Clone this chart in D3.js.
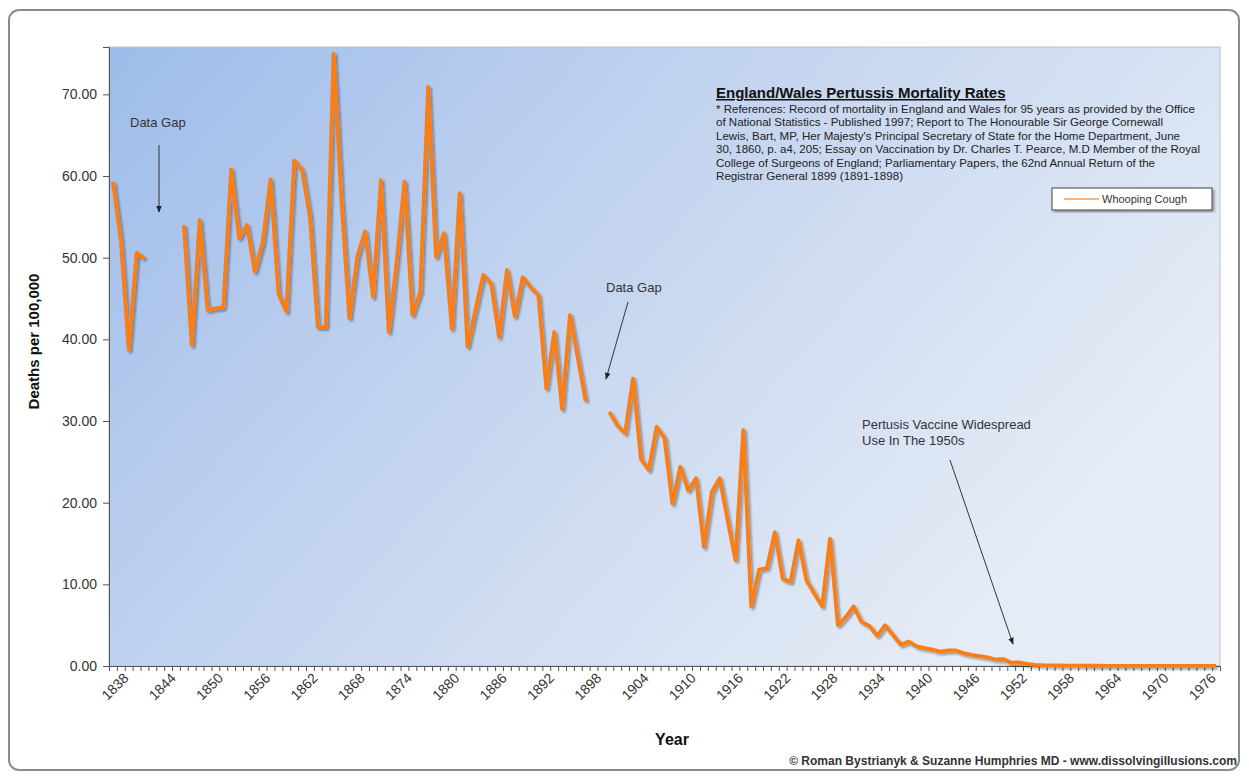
<!DOCTYPE html>
<html>
<head>
<meta charset="utf-8">
<script src="https://cdn.jsdelivr.net/npm/d3@7"></script>
<style>
  html, body { margin: 0; padding: 0; background: #fff; }
  svg { display: block; font-family: "Liberation Sans", Arial, sans-serif; }
</style>
</head>
<body>
<svg id="chart" width="1249" height="779"></svg>
<script>
// years on the category axis (1838 - 1978)
var firstYear = 1838, lastYear = 1978;
var labelYears = [1838, 1844, 1850, 1856, 1862, 1868, 1874, 1880, 1886, 1892, 1898, 1904,
    1910, 1916, 1922, 1928, 1934, 1940, 1946, 1952, 1958, 1964, 1970, 1976];
var yTicks = [0, 10, 20, 30, 40, 50, 60, 70];

// deaths per 100,000, one value per year, null = data gap
var deaths = [
    59.3, 52.1, 38.7, 50.6, 49.9, null, null, null, null, 54.0,   // 1838-1847
    39.3, 54.6, 43.6, 43.8, 43.9, 60.8, 52.4, 54.0, 48.3, 51.9,   // 1848-1857
    59.6, 45.6, 43.4, 61.9, 60.8, 55.0, 41.5, 41.5, 75.0, 57.0,   // 1858-1867
    42.6, 50.1, 53.2, 45.2, 59.5, 40.9, 49.5, 59.3, 43.0, 45.8,   // 1868-1877
    70.9, 50.1, 53.0, 41.3, 57.9, 39.1, 43.6, 47.9, 46.8, 40.3,   // 1878-1887
    48.5, 42.8, 47.6, 46.4, 45.4, 34.0, 40.9, 31.5, 43.0, 37.7,   // 1888-1897
    32.4, null, null, 31.1, 29.5, 28.5, 35.2, 25.4, 24.0, 29.3,   // 1898-1907
    27.9, 19.9, 24.4, 21.5, 23.0, 14.6, 21.3, 23.0, 17.9, 13.0,   // 1908-1917
    28.9, 7.3, 11.8, 12.0, 16.4, 10.7, 10.3, 15.4, 10.5, 8.9,     // 1918-1927
    7.3, 15.6, 5.0, 6.0, 7.3, 5.4, 4.9, 3.7, 5.0, 3.8,            // 1928-1937
    2.6, 3.0, 2.4, 2.2, 2.0, 1.75, 1.9, 1.9, 1.55, 1.35,          // 1938-1947
    1.2, 1.05, 0.8, 0.85, 0.4, 0.45, 0.25, 0.15, 0.1, 0.08,       // 1948-1957
    0.06, 0.05, 0.04, 0.04, 0.03, 0.03, 0.02, 0.02, 0.02, 0.02,   // 1958-1967
    0.02, 0.01, 0.01, 0.01, 0.01, 0.01, 0.01, 0.01, 0.01, 0.01,   // 1968-1977
    0.01                                                          // 1978
];

var refLines = [
    '* References: Record of mortality in England and Wales for 95 years as provided by the Office',
    'of National Statistics - Published 1997; Report to The Honourable Sir George Cornewall',
    "Lewis, Bart, MP, Her Majesty's Principal Secretary of State for the Home Department, June",
    '30, 1860, p. a4, 205; Essay on Vaccination by Dr. Charles T. Pearce, M.D Member of the Royal',
    'College of Surgeons of England; Parliamentary Papers, the 62nd Annual Return of the',
    'Registrar General 1899 (1891-1898)'
];

var data = deaths.map(function(v, i) { return {year: firstYear + i, value: v}; });

var plot = {left: 109, right: 1220, top: 47, bottom: 666};

var svg = d3.select('#chart');
var defs = svg.append('defs');

var grad = defs.append('linearGradient').attr('id', 'plotBg')
    .attr('x1', '0').attr('y1', '0').attr('x2', '1').attr('y2', '0.5');
grad.append('stop').attr('offset', '0%').attr('stop-color', '#9ebcea');
grad.append('stop').attr('offset', '45%').attr('stop-color', '#c2d3ef');
grad.append('stop').attr('offset', '100%').attr('stop-color', '#e6ecf6');

var shadow = defs.append('filter').attr('id', 'lineShadow')
    .attr('x', '-5%').attr('y', '-5%').attr('width', '110%').attr('height', '110%');
shadow.append('feGaussianBlur').attr('in', 'SourceAlpha').attr('stdDeviation', 1.2).attr('result', 'b');
shadow.append('feOffset').attr('in', 'b').attr('dx', 1.5).attr('dy', 1.5).attr('result', 'o');
shadow.append('feComponentTransfer').attr('in', 'o').attr('result', 's')
    .append('feFuncA').attr('type', 'linear').attr('slope', 0.35);
var merge = shadow.append('feMerge');
merge.append('feMergeNode').attr('in', 's');
merge.append('feMergeNode').attr('in', 'SourceGraphic');

var boxShadow = defs.append('filter').attr('id', 'boxShadow');
boxShadow.append('feDropShadow').attr('dx', 2).attr('dy', 2).attr('stdDeviation', 1.5)
    .attr('flood-color', '#000').attr('flood-opacity', 0.35);

defs.append('marker').attr('id', 'arrow')
    .attr('viewBox', '0 0 10 10').attr('refX', 9).attr('refY', 5)
    .attr('markerWidth', 7).attr('markerHeight', 7).attr('orient', 'auto')
    .append('path').attr('d', 'M0,1 L10,5 L0,9 Z').attr('fill', '#222');

// outer frame
svg.append('rect')
    .attr('x', 9).attr('y', 10).attr('width', 1230).attr('height', 760)
    .attr('rx', 10).attr('fill', '#fff')
    .attr('stroke', '#8c8c8c').attr('stroke-width', 2);

// plot area
svg.append('rect')
    .attr('x', plot.left).attr('y', plot.top)
    .attr('width', plot.right - plot.left).attr('height', plot.bottom - plot.top)
    .attr('fill', 'url(#plotBg)')
    .attr('stroke', '#b9c0c9').attr('stroke-width', 1);

// scales
var x = d3.scaleLinear().domain([firstYear - 0.5, lastYear + 0.5]).range([plot.left, plot.right]);
var y = d3.scaleLinear().domain([0, 75.8]).range([plot.bottom, plot.top]);

// y axis
var yAxis = d3.axisLeft(y).tickValues(yTicks).tickSize(6).tickPadding(6)
    .tickFormat(d3.format('.2f'));
var gy = svg.append('g').attr('transform', 'translate(' + plot.left + ',0)').call(yAxis);
gy.select('.domain').attr('stroke', '#555');
gy.selectAll('.tick line').attr('stroke', '#555');
gy.selectAll('.tick text').attr('fill', '#333').style('font-size', '14px');

// x axis: a tick between every year
var boundaries = d3.range(firstYear - 0.5, lastYear + 1, 1);
var xTicks = d3.axisBottom(x).tickValues(boundaries).tickSize(5).tickFormat('');
var gx = svg.append('g').attr('transform', 'translate(0,' + plot.bottom + ')').call(xTicks);
gx.select('.domain').attr('stroke', '#555');
gx.selectAll('.tick line').attr('stroke', '#555');

var xLabels = d3.axisBottom(x).tickValues(labelYears).tickSize(0).tickFormat(d3.format('d'));
var gxl = svg.append('g').attr('transform', 'translate(0,' + plot.bottom + ')').call(xLabels);
gxl.select('.domain').remove();
gxl.selectAll('.tick text')
    .attr('fill', '#333').style('font-size', '14px')
    .attr('text-anchor', 'end').attr('dy', null).attr('y', 0)
    .attr('transform', 'translate(16,13) rotate(-45)');

// axis titles
svg.append('text')
    .attr('transform', 'translate(39,' + ((plot.top + plot.bottom) / 2 - 15) + ') rotate(-90)')
    .attr('text-anchor', 'middle')
    .style('font-size', '15px').style('font-weight', 'bold').attr('fill', '#111')
    .text('Deaths per 100,000');
svg.append('text')
    .attr('x', 672).attr('y', 745).attr('text-anchor', 'middle')
    .style('font-size', '16px').style('font-weight', 'bold').attr('fill', '#111')
    .text('Year');

// the series
var line = d3.line()
    .defined(function(d) { return d.value !== null; })
    .x(function(d) { return x(d.year); })
    .y(function(d) { return y(d.value); });
svg.append('path')
    .datum(data)
    .attr('d', line)
    .attr('fill', 'none')
    .attr('stroke', '#fb7d16')
    .attr('stroke-width', 3.8)
    .attr('stroke-linejoin', 'round')
    .attr('filter', 'url(#lineShadow)');

// title and references
svg.append('text')
    .attr('x', 716).attr('y', 98)
    .style('font-size', '15px').style('font-weight', 'bold')
    .style('text-decoration', 'underline').attr('fill', '#111')
    .text('England/Wales Pertussis Mortality Rates');
var refEnds = [1195, 1163, 1180, 1200, 1155, 903];
svg.append('g').selectAll('text').data(refLines).enter().append('text')
    .attr('x', 716)
    .attr('y', function(d, i) { return 113 + i * 13.4; })
    .attr('textLength', function(d, i) { return refEnds[i] - 716; })
    .attr('lengthAdjust', 'spacingAndGlyphs')
    .style('font-size', '11px').attr('fill', '#222')
    .text(function(d) { return d; });

// legend
var lg = svg.append('g').attr('transform', 'translate(1052,188)');
lg.append('rect').attr('width', 160).attr('height', 22)
    .attr('fill', '#fff').attr('stroke', '#444').attr('stroke-width', 1)
    .attr('filter', 'url(#boxShadow)');
lg.append('line').attr('x1', 12).attr('x2', 47).attr('y1', 11).attr('y2', 11)
    .attr('stroke', '#fb9a4a').attr('stroke-width', 1.5);
lg.append('text').attr('x', 50).attr('y', 15)
    .style('font-size', '11px').attr('fill', '#333').text('Whooping Cough');

// annotations
function note(lines, tx, ty, ax1, ay1, ax2, ay2) {
    var t = svg.append('text').attr('x', tx).attr('y', ty)
        .style('font-size', '13px').attr('fill', '#333');
    lines.forEach(function(s, i) {
        t.append('tspan').attr('x', tx).attr('dy', i === 0 ? 0 : 16).text(s);
    });
    svg.append('line')
        .attr('x1', ax1).attr('y1', ay1).attr('x2', ax2).attr('y2', ay2)
        .attr('stroke', '#333').attr('stroke-width', 1)
        .attr('marker-end', 'url(#arrow)');
}
note(['Data Gap'], 130, 127, 159, 145, 159, 212);
note(['Data Gap'], 606, 292, 628, 302, 606, 379);
note(['Pertusis Vaccine Widespread', 'Use In The  1950s'], 862, 429, 950, 460, 1013, 644);

// credit line
svg.append('text')
    .attr('x', 1237).attr('y', 765).attr('text-anchor', 'end')
    .style('font-size', '12px').style('font-weight', 'bold').attr('fill', '#333')
    .text('\u00a9 Roman Bystrianyk & Suzanne Humphries MD - www.dissolvingillusions.com');
</script>
</body>
</html>
